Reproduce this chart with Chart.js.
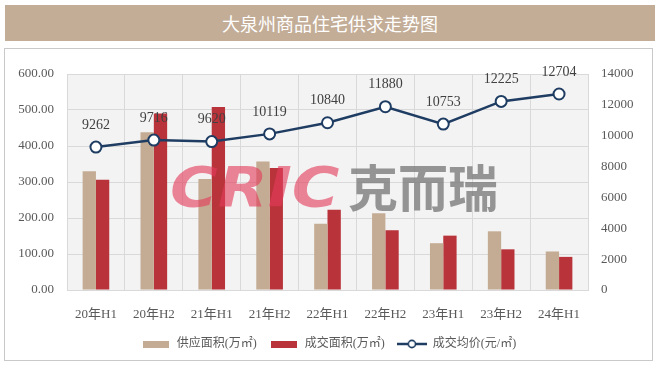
<!DOCTYPE html>
<html lang="zh">
<head>
<meta charset="UTF-8">
<title>大泉州商品住宅供求走势图</title>
<script src="https://cdn.jsdelivr.net/npm/chart.js"></script>
<style>
    body {
        margin: 0;
        width: 660px;
        height: 366px;
        background: #ffffff;
        position: relative;
        overflow: hidden;
    }
    .title-bar {
        position: absolute;
        left: 5px;
        top: 5px;
        width: 650px;
        height: 36px;
        background: #c3ad97;
        color: #ffffff;
        font-family: "Noto Sans CJK SC", sans-serif;
        font-size: 18px;
        line-height: 36px;
        text-align: center;
    }
    .panel {
        position: absolute;
        left: 4px;
        top: 48px;
        width: 647px;
        height: 311px;
        border: 1px solid #c9c9c9;
    }
    canvas {
        display: block;
    }
</style>
</head>
<body>
<div class="title-bar">大泉州商品住宅供求走势图</div>
<div class="panel">
    <canvas id="supplyChart" width="647" height="311"></canvas>
</div>

<script>
    const categories = ['20年H1', '20年H2', '21年H1', '21年H2', '22年H1', '22年H2', '23年H1', '23年H2', '24年H1'];
    const supplyArea = [330, 438, 308, 357, 184, 213, 130, 163, 107];
    const dealArea = [306, 490, 508, 339, 223, 166, 151, 113, 92];
    const avgPrice = [9262, 9716, 9620, 10119, 10840, 11880, 10753, 12225, 12704];
    const seriesNames = ['供应面积(万㎡)', '成交面积(万㎡)', '成交均价(元/㎡)'];

    const TAN = '#c4ab93';
    const RED = '#b8333a';
    const NAVY = '#1f3d63';
    const FONT = "'Liberation Serif', 'Noto Sans CJK SC', serif";

    // little legend swatches
    function swatch(color) {
        const c = document.createElement('canvas');
        c.width = 26; c.height = 7;
        const g = c.getContext('2d');
        g.fillStyle = color;
        g.fillRect(0, 0, 26, 7);
        return c;
    }
    function lineSwatch() {
        const c = document.createElement('canvas');
        c.width = 30; c.height = 10;
        const g = c.getContext('2d');
        g.strokeStyle = NAVY;
        g.lineWidth = 2.5;
        g.beginPath(); g.moveTo(0, 5); g.lineTo(30, 5); g.stroke();
        g.fillStyle = '#fff';
        g.lineWidth = 1.6;
        g.beginPath(); g.arc(15, 5, 3.6, 0, Math.PI * 2); g.fill(); g.stroke();
        return c;
    }
    const legendIcons = [swatch(TAN), swatch(RED), lineSwatch()];

    const plotBg = {
        id: 'plotBg',
        beforeDraw(chart) {
            const {ctx, chartArea: a} = chart;
            ctx.save();
            ctx.fillStyle = '#f3f3f3';
            ctx.fillRect(a.left, a.top, a.right - a.left, a.bottom - a.top);
            ctx.restore();
        }
    };

    const overlay = {
        id: 'overlay',
        afterDatasetsDraw(chart) {
            const ctx = chart.ctx;
            // watermark
            ctx.save();
            ctx.textBaseline = 'alphabetic';
            ctx.fillStyle = 'rgba(228, 60, 92, 0.62)';
            ctx.strokeStyle = 'rgba(228, 60, 92, 0.62)';
            ctx.lineWidth = 2;
            ctx.font = "italic bold 56px 'DejaVu Sans', sans-serif";
            ctx.translate(165, 157);
            ctx.scale(1.16, 1);
            ctx.fillText('CRIC', 0, 0);
            ctx.restore();
            ctx.save();
            ctx.textBaseline = 'middle';
            ctx.fillStyle = 'rgba(120, 120, 120, 0.78)';
            ctx.font = "bold 50px 'Noto Sans CJK SC', sans-serif";
            ctx.fillText('克而瑞', 343, 139);
            ctx.restore();

            // price labels
            const meta = chart.getDatasetMeta(2);
            ctx.save();
            ctx.font = "14px " + FONT;
            ctx.fillStyle = '#404040';
            ctx.textAlign = 'center';
            ctx.textBaseline = 'middle';
            meta.data.forEach((pt, i) => {
                ctx.fillText(String(avgPrice[i]), pt.x, pt.y - 22);
            });
            ctx.restore();
        }
    };

    const ctx = document.getElementById('supplyChart').getContext('2d');
    const chart = new Chart(ctx, {
        data: {
            labels: categories,
            datasets: [
                {
                    type: 'bar',
                    label: seriesNames[0],
                    data: supplyArea,
                    backgroundColor: TAN,
                    yAxisID: 'y',
                    order: 2,
                    barPercentage: 1,
                    categoryPercentage: 0.46
                },
                {
                    type: 'bar',
                    label: seriesNames[1],
                    data: dealArea,
                    backgroundColor: RED,
                    yAxisID: 'y',
                    order: 2,
                    barPercentage: 1,
                    categoryPercentage: 0.46
                },
                {
                    type: 'line',
                    label: seriesNames[2],
                    data: avgPrice,
                    borderColor: NAVY,
                    borderWidth: 2.5,
                    pointRadius: 5.5,
                    pointBorderWidth: 2,
                    pointBackgroundColor: '#ffffff',
                    pointBorderColor: NAVY,
                    tension: 0,
                    yAxisID: 'y1',
                    order: 1
                }
            ]
        },
        options: {
            responsive: false,
            animation: false,
            layout: { padding: { top: 25, left: 0, right: 0, bottom: 0 } },
            plugins: {
                tooltip: { enabled: false },
                legend: {
                    position: 'bottom',
                    labels: {
                        usePointStyle: true,
                        pointStyleWidth: 30,
                        padding: 12,
                        color: '#595959',
                        font: { family: FONT, size: 12 },
                        generateLabels() {
                            return seriesNames.map((name, i) => ({
                                text: name,
                                pointStyle: legendIcons[i],
                                fillStyle: 'transparent',
                                strokeStyle: 'transparent',
                                lineWidth: 0,
                                hidden: false,
                                datasetIndex: i,
                                fontColor: '#595959'
                            }));
                        }
                    }
                }
            },
            scales: {
                x: {
                    offset: true,
                    grid: { offset: true, color: '#d9d9d9', drawTicks: false },
                    border: { color: '#d9d9d9' },
                    ticks: { color: '#595959', padding: 17, font: { family: FONT, size: 13 } },
                    afterFit(scale) { scale.height = 36; }
                },
                y: {
                    position: 'left',
                    min: 0,
                    max: 600,
                    ticks: {
                        stepSize: 100,
                        color: '#595959',
                        padding: 13,
                        font: { family: FONT, size: 13 },
                        callback: v => v.toFixed(2)
                    },
                    grid: { color: '#d9d9d9', drawTicks: false },
                    border: { color: '#d9d9d9' },
                    afterFit(scale) { scale.width = 62; }
                },
                y1: {
                    position: 'right',
                    min: 0,
                    max: 14000,
                    ticks: {
                        stepSize: 2000,
                        color: '#595959',
                        padding: 13,
                        font: { family: FONT, size: 13 },
                        callback: v => String(v)
                    },
                    grid: { display: false, drawTicks: false },
                    border: { color: '#d9d9d9' },
                    afterFit(scale) { scale.width = 64; }
                }
            }
        },
        plugins: [plotBg, overlay]
    });
</script>
</body>
</html>
